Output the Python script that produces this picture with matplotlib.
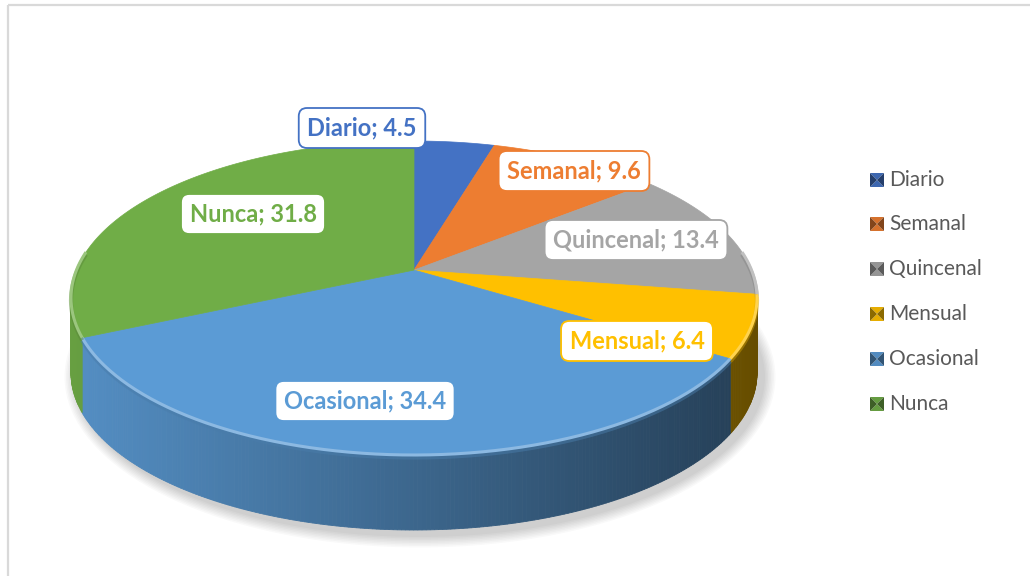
import numpy as np
import matplotlib
matplotlib.use("Agg")
import matplotlib.pyplot as plt
from matplotlib.patches import Polygon, Rectangle, Ellipse
from matplotlib.colors import to_rgb

# ---- data ----
categories = ["Diario", "Semanal", "Quincenal", "Mensual", "Ocasional", "Nunca"]
values = [4.5, 9.6, 13.4, 6.4, 34.4, 31.8]
colors = ["#4472C4", "#ED7D31", "#A5A5A5", "#FFC000", "#5B9BD5", "#70AD47"]
label_pos = [(362, 128), (574, 171), (636, 240), (637, 341), (365, 401), (253, 214)]
legend_y = [180, 224, 269, 314, 359, 404]

FONT = "Lato"
W, H = 1030, 576
fig = plt.figure(figsize=(W / 100, H / 100), dpi=100)
ax = fig.add_axes([0, 0, 1, 1])
ax.set_xlim(0, W)
ax.set_ylim(H, 0)
ax.axis("off")

# frame
ax.add_patch(Rectangle((8, 4.5), 1100, 700, fill=False, ec="#d9d9d9", lw=1.6, zorder=0))

cx, cy, rx, ry, depth, a = 414, 298, 343, 157, 75, -0.178
cc = np.sqrt(1 - a * a)


def proj(phi, r=1.0):
    u = r * np.sin(phi)
    v = r * np.cos(phi)
    w = -v
    den = 1 + a * w
    X = u * cc / den
    Y = (w + a) / den
    return cx + rx * X, cy + ry * Y


def shade(col, f):
    r, g, b = to_rgb(col)
    return (r * f, g * f, b * f)


def lighten(col, f):
    r, g, b = to_rgb(col)
    return (r + (1 - r) * f, g + (1 - g) * f, b + (1 - b) * f)


total = sum(values)
bounds = np.concatenate([[0], np.cumsum(values)]) / total * 2 * np.pi

# shadow
for k in range(8):
    ax.add_patch(Ellipse((cx + 6, cy + depth + 4), 2 * rx + 4 + 3 * k, 2 * ry + 6 + 3 * k,
                         fc="#000000", alpha=0.025, ec="none", zorder=1))

# visible side range
phi_vis0 = np.pi / 2 + np.arcsin(-a)
phi_vis1 = 3 * np.pi / 2 - np.arcsin(-a)

# sides
for i, col in enumerate(colors):
    s, e = max(bounds[i], phi_vis0), min(bounds[i + 1], phi_vis1)
    if e <= s:
        continue
    n = max(int((e - s) / 0.01), 2)
    ph = np.linspace(s, e, n + 1)
    for j in range(n):
        x0, y0 = proj(ph[j])
        x1, y1 = proj(ph[j + 1])
        xm = ((x0 + x1) / 2 - cx) / rx
        f = 0.66 - 0.26 * xm
        fc = shade(col, f)
        ax.add_patch(Polygon([(x0, y0), (x1, y1), (x1, y1 + depth), (x0, y0 + depth)],
                             closed=True, fc=fc, ec=fc, lw=0.6, zorder=2))

# top faces
for i, col in enumerate(colors):
    ph = np.linspace(bounds[i], bounds[i + 1], 200)
    xs, ys = proj(ph)
    x0, y0 = proj(0.0, 0.0)
    pts = [(x0, y0)] + list(zip(xs, ys))
    ax.add_patch(Polygon(pts, closed=True, fc=col, ec=col, lw=0.5, zorder=3))

# rim highlight
for i, col in enumerate(colors):
    s, e = max(bounds[i], phi_vis0 - 0.3), min(bounds[i + 1], phi_vis1 + 0.3)
    if e <= s:
        continue
    ph = np.linspace(s, e, 200)
    xs, ys = proj(ph)
    ax.plot(xs, ys + 2.5, color=shade(col, 0.8), lw=3, alpha=0.5, zorder=4, solid_capstyle="butt")
    ax.plot(xs, ys, color=lighten(col, 0.3), lw=2.2, zorder=4, solid_capstyle="butt")

# labels
for i, (cat, val, col) in enumerate(zip(categories, values, colors)):
    x, y = label_pos[i]
    ax.text(x, y, f"{cat}; {val:.1f}", ha="center", va="center", color=col,
            fontsize=17, fontweight="bold", family=FONT, zorder=6,
            bbox=dict(boxstyle="round,pad=0.36,rounding_size=0.35", fc="white", ec=col, lw=1.3))

# legend
ms = 14
lx = 870
for cat, col, yy in zip(categories, colors, legend_y):
    x0, x1 = lx, lx + ms
    y0, y1 = yy - ms / 2, yy + ms / 2
    xm, ym = (x0 + x1) / 2, (y0 + y1) / 2
    light = shade(col, 0.9)
    dark = shade(col, 0.55)
    ax.add_patch(Polygon([(x0, y0), (x1, y0), (xm, ym)], fc=light, ec="none", zorder=6))
    ax.add_patch(Polygon([(x0, y1), (x1, y1), (xm, ym)], fc=light, ec="none", zorder=6))
    ax.add_patch(Polygon([(x0, y0), (x0, y1), (xm, ym)], fc=dark, ec="none", zorder=6))
    ax.add_patch(Polygon([(x1, y0), (x1, y1), (xm, ym)], fc=dark, ec="none", zorder=6))
    ax.text(lx + ms + 5, yy, cat, ha="left", va="center", color="#595959",
            fontsize=15, family=FONT, zorder=6)

fig.savefig("out.png", dpi=100)
